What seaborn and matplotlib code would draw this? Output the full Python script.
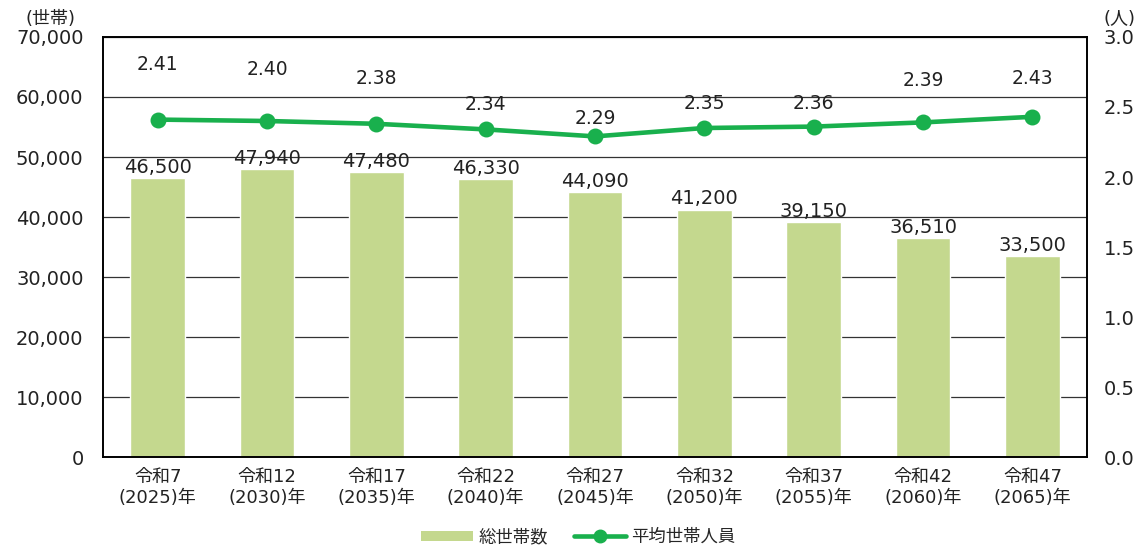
import numpy as np
import pandas as pd
import matplotlib
matplotlib.use("Agg")
import matplotlib.pyplot as plt
import seaborn as sns
from matplotlib.patches import Patch
from matplotlib.lines import Line2D

years = ["令和7\n(2025)年", "令和12\n(2030)年", "令和17\n(2035)年", "令和22\n(2040)年",
         "令和27\n(2045)年", "令和32\n(2050)年", "令和37\n(2055)年", "令和42\n(2060)年",
         "令和47\n(2065)年"]
households = [46500, 47940, 47480, 46330, 44090, 41200, 39150, 36510, 33500]
avg_size = [2.41, 2.40, 2.38, 2.34, 2.29, 2.35, 2.36, 2.39, 2.43]

# label offsets above the line points (pixels)
avg_label_dy = [55, 51, 45, 25, 18, 24, 23, 42, 38]

bar_color = "#c4d88e"
line_color = "#19b04d"

sns.set_style("white")
plt.rcParams['font.family'] = ['DejaVu Sans', 'Noto Sans CJK JP']

df = pd.DataFrame({"year": years, "households": households, "avg": avg_size})

fig, ax = plt.subplots(figsize=(11.41, 5.48), dpi=100)
fig.subplots_adjust(left=0.0903, right=0.9527, top=0.9325, bottom=0.166)

sns.barplot(data=df, x="year", y="households", color=bar_color, width=0.5,
            saturation=1, ax=ax, zorder=2)
ax.set_ylim(0, 70000)
ax.set_yticks(range(0, 70001, 10000))
ax.set_yticklabels([f"{v:,}" for v in range(0, 70001, 10000)])
ax.yaxis.grid(True, color="#333333", linewidth=0.9, zorder=0)
ax.set_axisbelow(True)
ax.set_xlabel("")
ax.set_ylabel("")
ax.tick_params(axis="y", length=0, pad=14, labelsize=14, labelcolor="#222222")
ax.tick_params(axis="x", length=0, pad=8, labelsize=13, labelcolor="#222222")
for s in ax.spines.values():
    s.set_color("black")
    s.set_linewidth(1.2)
ax.bar_label(ax.containers[0], labels=[f"{v:,}" for v in households],
             padding=1, fontsize=14, color="#222222")

ax2 = ax.twinx()
sns.pointplot(data=df, x="year", y="avg", color=line_color, markers="o",
              ax=ax2, linewidth=3.3, markersize=9)
ax2.set_ylim(0, 3.0)
ax2.set_yticks(np.arange(0, 3.01, 0.5))
ax2.set_yticklabels([f"{v:.1f}" for v in np.arange(0, 3.01, 0.5)])
ax2.set_ylabel("")
ax2.tick_params(axis="y", length=0, pad=12, labelsize=14, labelcolor="#222222")
for s in ax2.spines.values():
    s.set_color("black")
    s.set_linewidth(1.2)
for i, v in enumerate(avg_size):
    ax2.annotate(f"{v:.2f}", (i, v), xytext=(0, avg_label_dy[i]),
                 textcoords="offset pixels", ha="center", va="center",
                 fontsize=13.5, color="#222222")

fig.text(0.044, 0.965, "(世帯)", ha="center", va="center", fontsize=13, color="#222222")
fig.text(0.981, 0.965, "(人)", ha="center", va="center", fontsize=13, color="#222222")

handles = [Patch(facecolor=bar_color, edgecolor="none"),
           Line2D([0], [0], color=line_color, linewidth=3.3, marker="o", markersize=9)]
fig.legend(handles, ["総世帯数", "平均世帯人員"], loc="center", bbox_to_anchor=(0.507, 0.02),
           ncol=2, frameon=False, fontsize=12.5, handlelength=3.0, handleheight=0.5,
           handletextpad=0.3, columnspacing=1.5)

plt.savefig("out.png", dpi=100)
